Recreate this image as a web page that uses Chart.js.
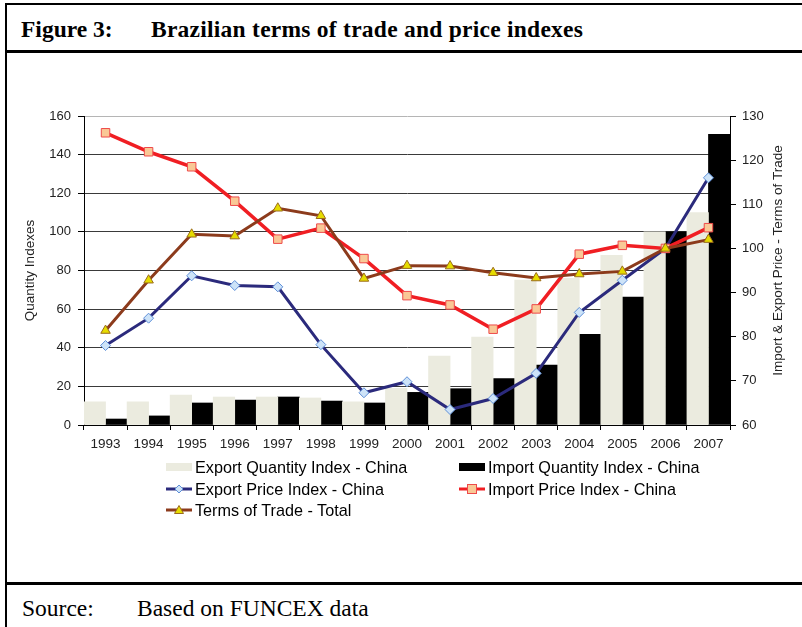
<!DOCTYPE html>
<html>
<head>
<meta charset="utf-8">
<script src="https://cdn.jsdelivr.net/npm/chart.js@4"></script>
<style>
  html, body { margin: 0; padding: 0; background: #fff; }
  #wrap { position: relative; width: 802px; height: 627px; overflow: hidden; background: #fff; }
  .rule { position: absolute; background: #000; }
  .serif { position: absolute; font-family: "Liberation Serif", "Times New Roman", serif; color: #000; white-space: nowrap; }
  #chart { position: absolute; left: 0; top: 0; }
  .leg { position: absolute; height: 18px; display: flex; align-items: center;
         font-family: "Liberation Sans", Arial, sans-serif; font-size: 16.2px; color: #000; white-space: nowrap; }
  .leg svg { margin-right: 3px; }
</style>
</head>
<body>
<div id="wrap">
  <div class="rule" style="left:5px;top:3px;width:2px;height:624px;"></div>
  <div class="rule" style="left:5px;top:3px;width:797px;height:2px;"></div>
  <div class="rule" style="left:5px;top:50px;width:797px;height:2.5px;"></div>
  <div class="rule" style="left:5px;top:582px;width:797px;height:2.5px;"></div>

  <div class="serif" id="figLabel" style="left:21px;top:18px;font-size:23.5px;line-height:23.5px;font-weight:bold;"></div>
  <div class="serif" id="figTitle" style="left:151px;top:18px;font-size:23.5px;line-height:23.5px;font-weight:bold;letter-spacing:0.25px;"></div>
  <div class="serif" id="srcLabel" style="left:22px;top:597px;font-size:23.5px;line-height:23.5px;"></div>
  <div class="serif" id="srcText" style="left:137px;top:597px;font-size:23.5px;line-height:23.5px;"></div>

  <canvas id="chart" width="802" height="627"></canvas>
  <div id="legend"></div>
</div>
<script>
// ---------- data ----------
const years = ['1993','1994','1995','1996','1997','1998','1999','2000','2001','2002','2003','2004','2005','2006','2007'];
const exportQuantity = [12, 12, 15.5, 14.5, 14.5, 14, 12, 19, 35.7, 45.5, 75, 76, 87.8, 100, 110];
const importQuantity = [3.1, 4.7, 11.4, 12.9, 14.5, 12.4, 11.4, 16.9, 18.8, 24, 31, 47, 66.2, 100, 150.5];
const exportPrice = [78.0, 84.2, 93.8, 91.6, 91.3, 78.2, 67.3, 69.8, 63.5, 66.0, 71.7, 85.5, 92.8, 100, 116];
const importPrice = [126.2, 121.9, 118.5, 110.7, 102.1, 104.6, 97.7, 89.3, 87.2, 81.7, 86.3, 98.7, 100.7, 100, 104.7];
const termsOfTrade = [81.4, 92.8, 103.2, 102.8, 109.1, 107.4, 93.2, 96.1, 96.0, 94.5, 93.3, 94.2, 94.8, 100, 102];

const seriesNames = ['Export Quantity Index - China', 'Import Quantity Index - China',
  'Export Price Index - China', 'Import Price Index - China', 'Terms of Trade - Total'];
const leftAxisTitle = 'Quantity Indexes';
const rightAxisTitle = 'Import & Export Price - Terms of Trade';
const figureLabel = 'Figure 3:';
const figureTitle = 'Brazilian terms of trade and price indexes';
const sourceLabel = 'Source:';
const sourceText = 'Based on FUNCEX data';

document.getElementById('figLabel').textContent = figureLabel;
document.getElementById('figTitle').textContent = figureTitle;
document.getElementById('srcLabel').textContent = sourceLabel;
document.getElementById('srcText').textContent = sourceText;

// ---------- styles ----------
const C = {
  expQty: '#ebebdf', impQty: '#000000',
  expPriceLine: '#2b2a7c', expPriceFill: '#cde3f8', expPriceEdge: '#5e8fd8',
  impPriceLine: '#f01e23', impPriceFill: '#f9c896', impPriceEdge: '#ee4a4a',
  totLine: '#8c3b1c', totFill: '#e6dc00', totEdge: '#9a6b1a'
};
const FONT = '"Liberation Sans", Arial, sans-serif';
Chart.defaults.font.family = FONT;
Chart.defaults.font.size = 13;
Chart.defaults.color = '#222';

const rightTitlePlugin = {
  id: 'rightTitle',
  afterDraw(chart) {
    const s = chart.scales.y1;
    const ctx = chart.ctx;
    ctx.save();
    ctx.translate(s.left + 48, (s.top + s.bottom) / 2 - 10);
    ctx.rotate(-Math.PI / 2);
    ctx.font = '13.5px ' + FONT;
    ctx.fillStyle = '#222';
    ctx.textAlign = 'center';
    ctx.textBaseline = 'middle';
    ctx.fillText(rightAxisTitle, 0, 0);
    ctx.restore();
  }
};

new Chart(document.getElementById('chart'), {
  data: {
    labels: years,
    datasets: [
      { type: 'line', label: seriesNames[4], data: termsOfTrade, yAxisID: 'y1', order: 0,
        borderColor: C.totLine, borderWidth: 3, tension: 0,
        pointStyle: 'triangle', pointRadius: 5.5, pointBackgroundColor: C.totFill,
        pointBorderColor: C.totEdge, pointBorderWidth: 1 },
      { type: 'line', label: seriesNames[3], data: importPrice, yAxisID: 'y1', order: 1,
        borderColor: C.impPriceLine, borderWidth: 3.5, tension: 0,
        pointStyle: 'rect', pointRadius: 6, pointBackgroundColor: C.impPriceFill,
        pointBorderColor: C.impPriceEdge, pointBorderWidth: 1 },
      { type: 'line', label: seriesNames[2], data: exportPrice, yAxisID: 'y1', order: 2,
        borderColor: C.expPriceLine, borderWidth: 3, tension: 0,
        pointStyle: 'rectRot', pointRadius: 5, pointBackgroundColor: C.expPriceFill,
        pointBorderColor: C.expPriceEdge, pointBorderWidth: 1 },
      { type: 'bar', label: seriesNames[0], data: exportQuantity, yAxisID: 'y', order: 10,
        backgroundColor: C.expQty, borderWidth: 0, categoryPercentage: 1, barPercentage: 1 },
      { type: 'bar', label: seriesNames[1], data: importQuantity, yAxisID: 'y', order: 11,
        backgroundColor: C.impQty, borderWidth: 0, categoryPercentage: 1, barPercentage: 1 }
    ]
  },
  options: {
    responsive: false,
    animation: false,
    devicePixelRatio: 1,
    layout: { padding: { top: 116, left: 0, right: 0, bottom: 172 } },
    plugins: { legend: { display: false }, tooltip: { enabled: false }, title: { display: false } },
    scales: {
      x: {
        type: 'category', offset: true,
        grid: { display: true, drawOnChartArea: false, offset: true, tickLength: 5, tickColor: '#000' },
        border: { color: '#000', width: 1 },
        ticks: { padding: 6, maxRotation: 0, autoSkip: false, color: '#222', font: { size: 13.5 } },
        afterFit(s) { s.height = 30; }
      },
      y: {
        position: 'left', min: 0, max: 160,
        ticks: { stepSize: 20, padding: 7, color: '#222' },
        grid: {
          tickLength: 6, tickColor: '#000', lineWidth: 1,
          color: (c) => (c.tick && c.tick.value === 160) ? '#b5b5b5' : '#3a3a3a'
        },
        border: { color: '#000', width: 1 },
        title: { display: true, text: leftAxisTitle, font: { size: 13.5 }, color: '#222', padding: { top: 22, bottom: 0 } },
        afterFit(s) { s.width = 84; }
      },
      y1: {
        position: 'right', min: 60, max: 130,
        ticks: { stepSize: 10, padding: 6, color: '#222' },
        grid: { drawOnChartArea: false, tickLength: 6, tickColor: '#000' },
        border: { color: '#000', width: 1 },
        afterFit(s) { s.width = 72; }
      }
    }
  },
  plugins: [rightTitlePlugin]
});

// ---------- legend ----------
function sym(kind) {
  const w = 26, h = 14, cy = 7;
  if (kind === 0) return `<svg width="${w}" height="${h}"><rect x="0" y="3" width="${w}" height="8" fill="${C.expQty}"/></svg>`;
  if (kind === 1) return `<svg width="${w}" height="${h}"><rect x="0" y="3" width="${w}" height="8" fill="${C.impQty}"/></svg>`;
  if (kind === 2) return `<svg width="${w}" height="${h}"><line x1="0" y1="${cy}" x2="${w}" y2="${cy}" stroke="${C.expPriceLine}" stroke-width="3"/>
      <polygon points="13,3 17,7 13,11 9,7" fill="${C.expPriceFill}" stroke="${C.expPriceEdge}" stroke-width="1"/></svg>`;
  if (kind === 3) return `<svg width="${w}" height="${h}"><line x1="0" y1="${cy}" x2="${w}" y2="${cy}" stroke="${C.impPriceLine}" stroke-width="3"/>
      <rect x="8.5" y="2.5" width="9" height="9" fill="${C.impPriceFill}" stroke="${C.impPriceEdge}" stroke-width="1"/></svg>`;
  return `<svg width="${w}" height="${h}"><line x1="0" y1="${cy}" x2="${w}" y2="${cy}" stroke="${C.totLine}" stroke-width="3"/>
      <polygon points="13,2.5 17.5,10.5 8.5,10.5" fill="${C.totFill}" stroke="${C.totEdge}" stroke-width="1"/></svg>`;
}
const legendPos = [[166, 467], [459, 467], [166, 489], [459, 489], [166, 510]];
const leg = document.getElementById('legend');
seriesNames.forEach((name, i) => {
  const d = document.createElement('div');
  d.className = 'leg';
  d.style.left = legendPos[i][0] + 'px';
  d.style.top = (legendPos[i][1] - 9) + 'px';
  d.innerHTML = sym(i);
  const t = document.createElement('span');
  t.textContent = name;
  d.appendChild(t);
  leg.appendChild(d);
});
</script>
</body>
</html>
